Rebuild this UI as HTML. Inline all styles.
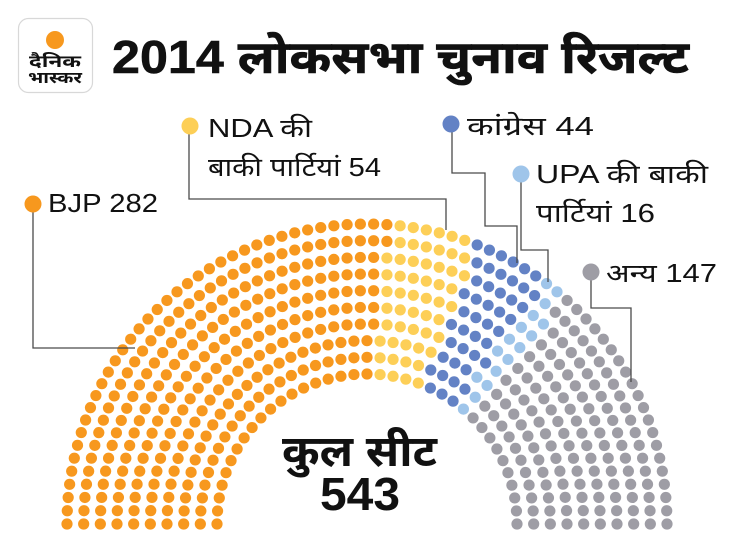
<!DOCTYPE html>
<html><head><meta charset="utf-8">
<style>
html,body{margin:0;padding:0;background:#fff;}
body{width:730px;height:548px;overflow:hidden;position:relative;}
svg{position:absolute;left:0;top:0;}
.t{font-family:"Liberation Sans","Noto Sans Devanagari","Lohit Devanagari","FreeSans",sans-serif;fill:#111;}
</style></head>
<body>
<svg id="s" width="730" height="548" viewBox="0 0 730 548" xmlns="http://www.w3.org/2000/svg">
  <!-- logo -->
  <rect x="18.5" y="18.5" width="74" height="74" rx="10" ry="10" fill="#fff" stroke="#d8d8d8" stroke-width="1.2"/>
  <circle cx="55" cy="40" r="9" fill="#F7981E"/>
  <text class="t" x="29" y="67" font-size="17" font-weight="bold" textLength="52" lengthAdjust="spacingAndGlyphs">दैनिक</text>
  <text class="t" x="28" y="83" font-size="16" font-weight="bold" textLength="54" lengthAdjust="spacingAndGlyphs">भास्कर</text>
  <!-- title -->
  <text class="t" x="112" y="73" font-size="46" font-weight="bold" stroke="#111" stroke-width="0.6" textLength="577" lengthAdjust="spacingAndGlyphs">2014 लोकसभा चुनाव रिजल्ट</text>

  <g id="dots"></g>

  <!-- leader lines -->
  <g fill="none" stroke="#4a4a4a" stroke-width="1.3">
    <polyline points="33,205 33,348 135,348"/>
    <polyline points="189,126 189,199 446,199 446,230"/>
    <polyline points="452,124 452,173 485,173 485,226 517,226 517,263"/>
    <polyline points="521,174 521,250 548,250 548,282"/>
    <polyline points="591,272 591,308 631,308 631,382"/>
  </g>
  <!-- label dots -->
  <circle cx="33" cy="204" r="8.5" fill="#F7981E"/>
  <circle cx="190" cy="126" r="8.5" fill="#FDCF57"/>
  <circle cx="451" cy="124" r="8.5" fill="#6382C5"/>
  <circle cx="521" cy="174" r="8.5" fill="#9FC5EA"/>
  <circle cx="591" cy="272" r="8.5" fill="#9E9DA5"/>
  <!-- labels -->
  <text class="t" x="48" y="212" font-size="26" textLength="110" lengthAdjust="spacingAndGlyphs">BJP 282</text>
  <text class="t" x="208" y="137" font-size="26" textLength="104" lengthAdjust="spacingAndGlyphs">NDA की</text>
  <text class="t" x="208" y="176" font-size="26" textLength="173" lengthAdjust="spacingAndGlyphs">बाकी पार्टियां 54</text>
  <text class="t" x="467" y="135" font-size="26" textLength="127" lengthAdjust="spacingAndGlyphs">कांग्रेस 44</text>
  <text class="t" x="536" y="183" font-size="26" textLength="172" lengthAdjust="spacingAndGlyphs">UPA की बाकी</text>
  <text class="t" x="536" y="222" font-size="26" textLength="119" lengthAdjust="spacingAndGlyphs">पार्टियां 16</text>
  <text class="t" x="606" y="282" font-size="26" textLength="111" lengthAdjust="spacingAndGlyphs">अन्य 147</text>
  <!-- center -->
  <text class="t" x="282" y="466" font-size="43" font-weight="bold" textLength="155" lengthAdjust="spacingAndGlyphs">कुल सीट</text>
  <text class="t" x="320" y="510" font-size="46" font-weight="bold" textLength="80" lengthAdjust="spacingAndGlyphs">543</text>
</svg>
<script>
(function(){
  var cx=367, cy=524, rows=10, r0=150, r1=300, N=543;
  var radii=[], i, j, sumR=0;
  for(i=0;i<rows;i++){ var r=r0+(r1-r0)*i/(rows-1); radii.push(r); sumR+=r; }
  var s=Math.PI*sumR/(N-rows);
  var raw=radii.map(function(r){return Math.PI*r/s+1;});
  var counts=raw.map(function(v){return Math.floor(v);});
  var tot=counts.reduce(function(a,b){return a+b;},0);
  var order=raw.map(function(v,k){return [v-Math.floor(v),k];}).sort(function(a,b){return b[0]-a[0];});
  for(i=0;tot<N;i++){ counts[order[i%rows][1]]++; tot++; }
  var seats=[];
  for(i=0;i<rows;i++){
    var n=counts[i], r=radii[i];
    for(j=0;j<n;j++){
      var th=Math.PI - Math.PI*j/(n-1);
      seats.push({th:th, r:r, x:cx+r*Math.cos(th), y:cy-r*Math.sin(th)});
    }
  }
  seats.sort(function(a,b){ if(Math.abs(b.th-a.th)>1e-9) return b.th-a.th; return a.r-b.r; });
  var parties=[[282,"#F7981E"],[54,"#FDCF57"],[44,"#6382C5"],[16,"#9FC5EA"],[147,"#9E9DA5"]];
  var g=document.getElementById("dots"), ns="http://www.w3.org/2000/svg", idx=0;
  for(var p=0;p<parties.length;p++){
    for(j=0;j<parties[p][0] && idx<seats.length;j++,idx++){
      var c=document.createElementNS(ns,"circle");
      c.setAttribute("cx",seats[idx].x.toFixed(2));
      c.setAttribute("cy",seats[idx].y.toFixed(2));
      c.setAttribute("r","5.6");
      c.setAttribute("fill",parties[p][1]);
      g.appendChild(c);
    }
  }
})();
</script>
</body></html>
